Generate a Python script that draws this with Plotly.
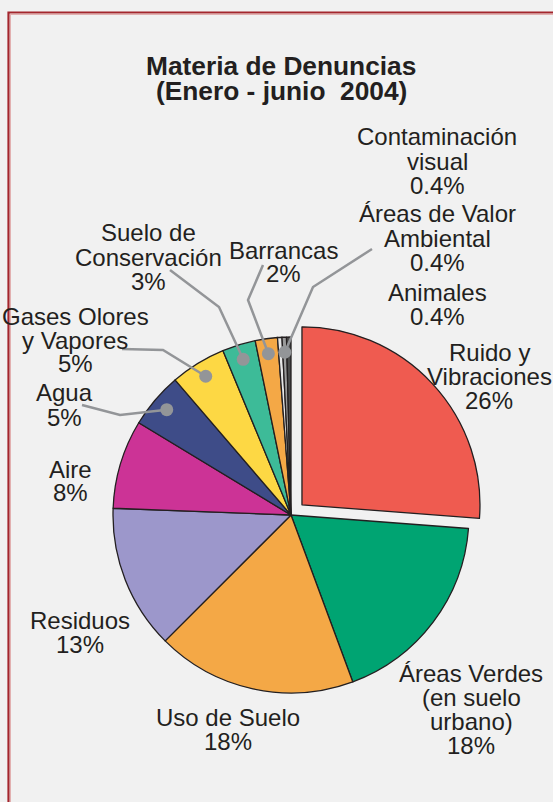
import math
import plotly.graph_objects as go

W, H = 553, 802

# ---- data ----
categories = ["Ruido y Vibraciones", "Áreas Verdes (en suelo urbano)", "Uso de Suelo",
              "Residuos", "Aire", "Agua", "Gases Olores y Vapores",
              "Suelo de Conservación", "Barrancas", "Animales",
              "Áreas de Valor Ambiental", "Contaminación visual"]
values = [26, 18, 18, 13, 8, 5, 5, 3, 2, 0.4, 0.4, 0.4]
pct_labels = ["26%", "18%", "18%", "13%", "8%", "5%", "5%", "3%", "2%", "0.4%", "0.4%", "0.4%"]
colors = ["#ef5b50", "#00a472", "#f4a846", "#9c97cb", "#cc3396", "#3e4c88",
          "#fdd844", "#3dbb98", "#f4a846", "#e6e6e6", "#9a9a9a", "#4a4a4a"]
title_lines = ["Materia de Denuncias", "(Enero - junio  2004)"]

# ---- layout helpers (pixel -> paper) ----
def px(x):
    return x / W

def py(y):
    return 1 - y / H

CX, CY, R = 291, 515, 178
PULL = 0.084
half = R * (1 + PULL)

fig = go.Figure()
fig.add_trace(go.Pie(
    labels=categories, values=values, sort=False, direction="clockwise", rotation=0,
    marker=dict(colors=colors, line=dict(color="#231f20", width=1.3)),
    pull=[PULL] + [0] * (len(values) - 1),
    textinfo="none", hoverinfo="label+percent", showlegend=False,
    domain=dict(x=[px(CX - half), px(CX + half)], y=[py(CY + half), py(CY - half)]),
))

# label text lines: (category index, lines, center x, first line y)
label_layout = [
    (0, ["Ruido y", "Vibraciones"], 489, 352),
    (1, ["Áreas Verdes", "(en suelo", "urbano)"], 471, 673),
    (2, ["Uso de Suelo"], 228, 717),
    (3, ["Residuos"], 80, 620),
    (4, ["Aire"], 70, 469),
    (5, ["Agua"], 64, 393),
    (6, ["Gases Olores", "y Vapores"], 75, 316),
    (7, ["Suelo de", "Conservación"], 148, 233),
    (8, ["Barrancas"], 283, 250),
    (9, ["Animales"], 437, 292),
    (10, ["Áreas de Valor", "Ambiental"], 437, 214),
    (11, ["Contaminación", "visual"], 437, 137),
]
LINE = 24
annotations = []
for idx, lines, x, y in label_layout:
    for k, t in enumerate(lines + [pct_labels[idx]]):
        annotations.append(dict(
            x=px(x), y=py(y + k * LINE), xref="paper", yref="paper", text=t,
            showarrow=False, xanchor="center", yanchor="middle",
            font=dict(family="Liberation Sans, Arial", size=24, color="#231f20")))

for k, t in enumerate(title_lines):
    annotations.append(dict(
        x=px(281), y=py(66 + k * 25), xref="paper", yref="paper", text="<b>%s</b>" % t,
        showarrow=False, xanchor="center", yanchor="middle",
        font=dict(family="Liberation Sans, Arial", size=26.3, color="#231f20")))

# leader lines: category index -> label-side points (start, elbow)
leaders = {
    5: [(82, 405), (120, 415)],
    6: [(122, 349), (163, 350)],
    7: [(170, 270), (219, 307)],
    8: [(263, 265), (248, 300)],
    10: [(372, 249), (313, 287)],
}
total = sum(values)
cum = 0
mids = []
for v in values:
    mids.append((cum + v / 2) / total * 360)
    cum += v

shapes = []
# border
shapes.append(dict(type="rect", xref="paper", yref="paper",
                   x0=px(8.5), y0=py(12.5), x1=px(W + 20), y1=py(H + 20),
                   line=dict(color="#a3262d", width=2.2), layer="above"))
shapes.append(dict(type="rect", xref="paper", yref="paper",
                   x0=px(10.3), y0=py(14.3), x1=px(W + 20), y1=py(H + 20),
                   line=dict(color="#dfa0a0", width=1), layer="above"))

GRAY = "#939598"
for idx, pts in leaders.items():
    a = math.radians(mids[idx])
    dx = CX + 0.915 * R * math.sin(a)
    dy = CY - 0.915 * R * math.cos(a)
    path_pts = pts + [(dx, dy)]
    path = "M " + " L ".join("%f,%f" % (px(x), py(y)) for x, y in path_pts)
    shapes.append(dict(type="path", xref="paper", yref="paper", path=path,
                       line=dict(color=GRAY, width=2.5), layer="above"))
    rr = 6.5
    shapes.append(dict(type="circle", xref="paper", yref="paper",
                       x0=px(dx - rr), x1=px(dx + rr), y0=py(dy + rr), y1=py(dy - rr),
                       fillcolor=GRAY, line=dict(width=0), layer="above"))

fig.update_layout(
    width=W, height=H, margin=dict(l=0, r=0, t=0, b=0),
    paper_bgcolor="#f1f1f1", plot_bgcolor="#f1f1f1",
    annotations=annotations, shapes=shapes, showlegend=False,
)
fig.write_html("out.html", config={"displayModeBar": False},
               post_script="document.body.style.margin='0';document.body.style.overflow='hidden';")
